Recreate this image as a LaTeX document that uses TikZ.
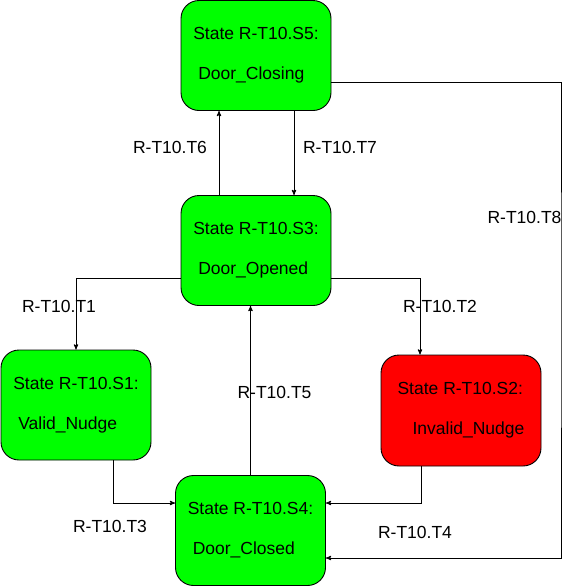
\documentclass[tikz,border=0pt]{standalone}
\usepackage{fontspec}
\setmainfont{Liberation Sans}
\usetikzlibrary{arrows,positioning,shapes}

\begin{document}
\begin{tikzpicture}[->,>=stealth',auto,x=1pt,y=-1pt,line width=0.9pt]
\tikzstyle{stbox}=[shape=rectangle,draw,rounded corners=18pt,fill=green,text=black,minimum width=150pt,minimum height=110pt,align=left,font=\fontsize{17.5}{40}\selectfont]
\tikzstyle{lbl}=[font=\fontsize{17.5}{21}\selectfont,inner sep=0pt]

\useasboundingbox (0,0) rectangle (577,587);

\node[stbox]		(S5) at (256,55.5)	{State R-T10.S5:\\\hspace*{5pt}Door\_Closing};
\node[stbox]		(S3) [below of=S5,node distance=195pt] {State R-T10.S3:\\\hspace*{5pt}Door\_Opened};
\node[stbox]		(S1) [below of=S3,node distance=154.5pt,xshift=-180pt] {State R-T10.S1:\\\hspace*{5pt}Valid\_Nudge};
\node[stbox]		(S2) [below of=S3,node distance=160pt,xshift=205pt,fill=red,minimum width=160pt,minimum height=111pt] {State R-T10.S2:\\\hspace*{15pt}Invalid\_Nudge};
\node[stbox]		(S4) [below of=S3,node distance=280pt,xshift=-5.5pt] {State R-T10.S4:\\\hspace*{5pt}Door\_Closed};

\node[lbl]	(T1) at (59,306.5)	{R-T10.T1};
\node[lbl]	(T2) at (440,306.5)	{R-T10.T2};
\node[lbl]	(T3) at (110,526.5)	{R-T10.T3};
\node[lbl]	(T4) at (415,532)	{R-T10.T4};
\node[lbl]	(T5) at (274.5,392.5)	{R-T10.T5};
\node[lbl]	(T6) at (170,147)	{R-T10.T6};
\node[lbl]	(T7) at (340,147)	{R-T10.T7};
\node[lbl]	(T8) at (524.5,217)	{R-T10.T8};

\coordinate (C8) at (561,300);

\draw ([yshift=-28pt]S3.west) -| (S1.north);
\draw ([yshift=-28pt]S3.east) -| ([xshift=-41pt]S2.north);
\draw ([xshift=37pt]S1.south) |- ([yshift=27.5pt]S4.west);
\draw ([xshift=-40pt]S2.south) |- ([yshift=27.5pt]S4.east);
\draw (S4.north) -- (S4.north |- S3.south);
\draw ([xshift=-37pt]S3.north) -- ([xshift=-37pt]S5.south);
\draw ([xshift=38pt]S5.south) -- ([xshift=38pt]S3.north);
\draw ([yshift=-26.5pt]S5.east) -| (C8) |- ([yshift=-27.5pt]S4.east);
\end{tikzpicture}
\end{document}
